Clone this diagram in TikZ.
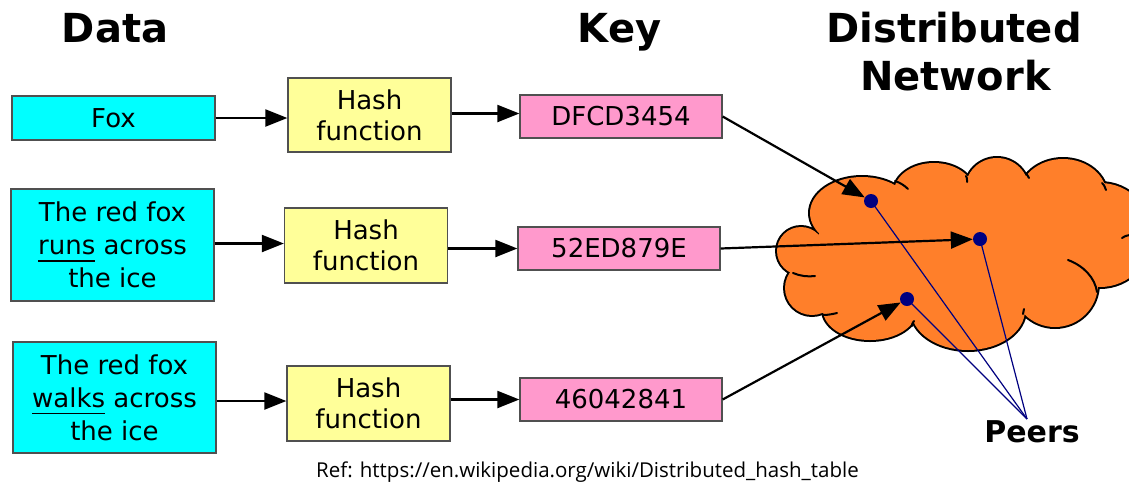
\documentclass[tikz,border=0pt]{standalone}
\usepackage{fontspec}
\setmainfont{DejaVu Sans}
\newfontfamily\reffont{Open Sans}
\usetikzlibrary{arrows.meta}
\definecolor{datacyan}{HTML}{00FFFF}
\definecolor{hashyellow}{HTML}{FFFF99}
\definecolor{keypink}{HTML}{FF99CC}
\definecolor{cloudorange}{HTML}{FF7F2A}
\definecolor{peernavy}{HTML}{000080}
\definecolor{boxgray}{HTML}{505050}
\pgfdeclarelayer{back}
\pgfsetlayers{back,main}
% underline a word with a rule set a little below the baseline
\newcommand\ulword[1]{\setbox0=\hbox{#1}\rlap{\rule[-6.8pt]{\wd0}{1.4pt}}\box0\relax}
\begin{document}
\begin{tikzpicture}[x=1pt,y=-1pt,
  box/.style={draw=boxgray, line width=1.3pt, inner sep=0pt, align=center,
    font=\fontsize{26}{33}\selectfont},
  databox/.style={box, fill=datacyan, minimum width=203pt},
  hashbox/.style={box, fill=hashyellow, minimum width=163pt, minimum height=75pt,
    font=\fontsize{26}{31}\selectfont},
  keybox/.style={box, fill=keypink, minimum width=202pt, minimum height=43pt},
  title/.style={anchor=base, font=\bfseries\fontsize{40}{48}\selectfont},
  conn/.style={line width=2.2pt, -{Triangle[length=22pt,width=17pt]}},
  peer/.style={circle, fill=peernavy, inner sep=0pt, minimum size=14pt},
  peerline/.style={draw=peernavy, line width=1.2pt},
  curl/.style={line width=2pt, line cap=round}]
\useasboundingbox (0,0) rectangle (1129,483);
\clip (0,0) rectangle (1129,483);

% column titles
\node[title] (tdata) at (115,42) {Data};
\node[title] (tkey) at (619.5,42) {Key};
\node[title] (tdist) at (954,42) {Distributed};
\node[title] (tnet) at (955.5,90) {Network};

% data
\node[databox, minimum height=44pt] (d1) at (113.5,118) {Fox};
\node[databox, minimum height=112pt] (d2) at (112.5,245) {The red fox\\\ulword{runs} across\\the ice};
\node[databox, minimum height=111pt] (d3) at (114.5,397.5) {The red fox\\\ulword{walks} across\\the ice};

% hash functions
\node[hashbox, minimum height=74pt] (h1) at (369.5,115) {Hash\\function};
\node[hashbox] (h2) at (366,245.5) {Hash\\function};
\node[hashbox] (h3) at (368.5,403.5) {Hash\\function};

% keys
\node[keybox] (k1) at (621,116.5) {DFCD3454};
\node[keybox] (k2) at (619,248.5) {52ED879E};
\node[keybox] (k3) at (621,399.5) {46042841};

% peers in the network
\node[peer] (p1) at (871,201) {};
\node[peer] (p2) at (980,239) {};
\node[peer] (p3) at (907,299) {};
\node[anchor=base, font=\bfseries\fontsize{30}{36}\selectfont] (peers) at (1032,442) {Peers};
\coordinate (pp) at (1027,419);

% reference line
\node[anchor=base, font=\reffont\fontsize{20.5}{24}\selectfont] (ref) at (587.5,477)
  {Ref: https://en.wikipedia.org/wiki/Distributed\_hash\_table};

% data -> hash
\draw[conn] (d1.east) -- (d1.east -| h1.west);
\draw[conn] ([yshift=1.5pt]d2.east) -- ([yshift=1.5pt]d2.east -| h2.west);
\draw[conn] ([yshift=-3.5pt]d3.east) -- ([yshift=-3.5pt]d3.east -| h3.west);
% hash -> key
\draw[conn] ([yshift=1.5pt]h1.east) -- ([yshift=1.5pt]h1.east -| k1.west);
\draw[conn] (k2.west -| h2.east) -- (k2.west);
\draw[conn] (k3.west -| h3.east) -- (k3.west);
% key -> peer
\draw[conn] (k1.east) -- (p1);
\draw[conn] (k2.east) -- (p2);
\draw[conn] (k3.east) -- (p3);

\begin{pgfonlayer}{back}
  % cloud: lobes stroked wide, then filled over so only the outer rim stays
  \def\lobes{801/251/24/24, 862/213/52/36, 934/192/40/29, 997/190/32/32,
    1063/196/44/37, 1100/235/52/52, 1055/284/43/43, 968/310/57/40,
    870/310/47/30, 812/288/27/27}
  \foreach \cx/\cy/\rx/\ry in \lobes
    {\draw[line width=4pt] (\cx,\cy) ellipse [x radius=\rx, y radius=\ry];}
  \foreach \cx/\cy/\rx/\ry in \lobes
    {\fill[cloudorange] (\cx,\cy) ellipse [x radius=\rx, y radius=\ry];}
  \fill[cloudorange] (820,232) -- (897,190) -- (967,186) -- (1027,182) -- (1100,192)
    -- (1120,235) -- (1092,285) -- (1023,305) -- (913,317) -- (828,306) -- (800,268) -- cycle;
  % inner curls where lobes meet
  \draw[curl] (793,273) .. controls (800,276) and (808,277) .. (815,276);
  \draw[curl] (895,181) .. controls (901,183) and (905,186) .. (908,189);
  \draw[curl] (966,176) .. controls (967,178) .. (967,182);
  \draw[curl] (1026,173) .. controls (1027,175) .. (1029,178);
  \draw[curl] (1102,183) .. controls (1104,185) .. (1106,190);
  \draw[curl] (1122,238) .. controls (1125,236) .. (1130,235);
  \draw[curl] (1068,260) .. controls (1084,266) and (1095,278) .. (1097,292);
  \draw[curl] (1023,314) .. controls (1023,312) .. (1024,309);
  \draw[curl] (912,326) .. controls (912,324) .. (914,321);
  \draw[curl] (823,315) .. controls (828,315) and (833,314) .. (837,313);
  % peers to label
  \draw[peerline] (p1.center) -- (pp);
  \draw[peerline] (p2.center) -- (pp);
  \draw[peerline] (p3.center) -- (pp);
\end{pgfonlayer}
\end{tikzpicture}
\end{document}
